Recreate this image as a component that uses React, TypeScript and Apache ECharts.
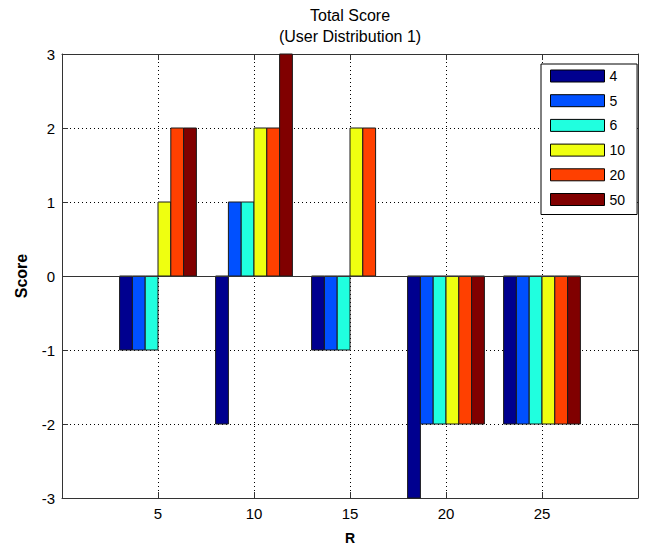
import React, { useEffect, useRef } from "react";
import * as echarts from "echarts";

const categories = [5, 10, 15, 20, 25];
const seriesNames = ["4", "5", "6", "10", "20", "50"];
const s4 = [-1, -2, -1, -3, -2];
const s5 = [-1, 1, -1, -2, -2];
const s6 = [-1, 1, -1, -2, -2];
const s10 = [1, 2, 2, -2, -2];
const s20 = [2, 2, 2, -2, -2];
const s50 = [2, 3, 0, -2, -2];
const seriesValues = [s4, s5, s6, s10, s20, s50];
const colors = ["#00008F", "#0050FF", "#20FFDF", "#EFFF10", "#FF4000", "#800000"];

const FONT = "'Liberation Sans', Arial, Helvetica, sans-serif";
const BAR_W = 4 / 6;

export default function App() {
  const ref = useRef<HTMLDivElement>(null);
  useEffect(() => {
    if (!ref.current) return;
    const chart = echarts.init(ref.current, undefined, { renderer: "svg" });
    const n = seriesNames.length;
    const series: any[] = seriesNames.map((name, i) => ({
      name,
      type: "custom",
      xAxisIndex: 0,
      yAxisIndex: 0,
      itemStyle: { color: colors[i], borderColor: "#000", borderWidth: 1 },
      encode: { x: 0, y: 1 },
      data: categories.map((c, k) => [c, seriesValues[i][k]]),
      renderItem: (params: any, api: any) => {
        const x = api.value(0) + (i - (n - 1) / 2) * BAR_W;
        const v = api.value(1);
        if (v === 0) return null;
        const p0 = api.coord([x - BAR_W / 2, 0]);
        const p1 = api.coord([x + BAR_W / 2, v]);
        return {
          type: "rect",
          shape: {
            x: p0[0],
            y: Math.min(p0[1], p1[1]),
            width: p1[0] - p0[0],
            height: Math.abs(p1[1] - p0[1]),
          },
          style: { fill: colors[i], stroke: "#1a1a1a", lineWidth: 1 },
        };
      },
      z: 3,
    }));
    series.push({
      type: "line",
      xAxisIndex: 0,
      yAxisIndex: 0,
      data: [],
      silent: true,
      markLine: {
        symbol: "none",
        silent: true,
        label: { show: false },
        lineStyle: { color: "#333", type: "solid", width: 1 },
        data: [{ yAxis: 0 }],
      },
      z: 4,
    });

    const axisLineStyle = { color: "#333", width: 1 };
    chart.setOption({
      animation: false,
      backgroundColor: "#fff",
      title: {
        text: "Total Score\n(User Distribution 1)",
        left: 350,
        top: 5,
        padding: 0,
        textAlign: "center",
        textStyle: {
          fontFamily: FONT,
          fontSize: 16,
          fontWeight: "normal",
          color: "#000",
          lineHeight: 21,
        },
      },
      legend: {
        orient: "vertical",
        left: 541,
        top: 64,
        padding: [5, 12, 8, 9],
        itemWidth: 54,
        itemHeight: 12,
        itemGap: 10.7,
        icon: "rect",
        borderColor: "#000",
        borderWidth: 1,
        backgroundColor: "#fff",
        data: seriesNames,
        itemStyle: { borderColor: "#000", borderWidth: 1 },
        textStyle: { fontFamily: FONT, fontSize: 14, color: "#000", lineHeight: 12 },
      },
      grid: { left: 62, top: 54, width: 576, height: 448 },
      xAxis: [
        {
          type: "value",
          min: 0,
          max: 30,
          interval: 5,
          position: "bottom",
          name: "R",
          nameLocation: "middle",
          nameGap: 33,
          nameTextStyle: { fontFamily: FONT, fontSize: 14, fontWeight: "bold", color: "#000" },
          axisLine: { show: true, onZero: false, lineStyle: axisLineStyle },
          axisTick: { show: true, inside: true, length: 6, lineStyle: axisLineStyle },
          axisLabel: {
            fontFamily: FONT,
            fontSize: 15,
            color: "#000",
            margin: 8,
            showMinLabel: false,
            showMaxLabel: false,
          },
          splitLine: { show: true, lineStyle: { color: "#000", type: [1, 3], width: 1 } },
        },
        {
          type: "value",
          min: 0,
          max: 30,
          interval: 5,
          position: "top",
          axisLine: { show: true, onZero: false, lineStyle: axisLineStyle },
          axisTick: { show: true, inside: true, length: 6, lineStyle: axisLineStyle },
          axisLabel: { show: false },
          splitLine: { show: false },
        },
      ],
      yAxis: [
        {
          type: "value",
          min: -3,
          max: 3,
          interval: 1,
          position: "left",
          name: "Score",
          nameLocation: "middle",
          nameGap: 33,
          nameRotate: 90,
          nameTextStyle: { fontFamily: FONT, fontSize: 16, fontWeight: "bold", color: "#000" },
          axisLine: { show: true, onZero: false, lineStyle: axisLineStyle },
          axisTick: { show: true, inside: true, length: 6, lineStyle: axisLineStyle },
          axisLabel: { fontFamily: FONT, fontSize: 15, color: "#000", margin: 7 },
          splitLine: { show: true, lineStyle: { color: "#000", type: [1, 3], width: 1 } },
        },
        {
          type: "value",
          min: -3,
          max: 3,
          interval: 1,
          position: "right",
          axisLine: { show: true, onZero: false, lineStyle: axisLineStyle },
          axisTick: { show: true, inside: true, length: 6, lineStyle: axisLineStyle },
          axisLabel: { show: false },
          splitLine: { show: false },
        },
      ],
      series,
    });
    return () => chart.dispose();
  }, []);
  return (
    <div
      ref={ref}
      style={{ position: "fixed", left: 0, top: 0, width: 657, height: 550 }}
    />
  );
}
